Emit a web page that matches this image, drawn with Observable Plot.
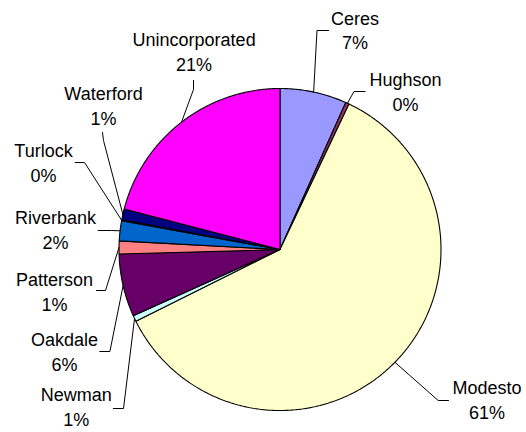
<!DOCTYPE html>
<html>
<head>
<meta charset="utf-8">
<script src="https://cdn.jsdelivr.net/npm/d3@7"></script>
<script src="https://cdn.jsdelivr.net/npm/@observablehq/plot@0.6"></script>
<style>
  html, body { margin: 0; padding: 0; background: #fff; }
  #chart { width: 526px; height: 432px; }
</style>
</head>
<body>
<div id="chart"></div>
<script>
// ---- data ----
const names = ["Ceres", "Hughson", "Modesto", "Newman", "Oakdale", "Patterson", "Riverbank", "Turlock", "Waterford", "Unincorporated"];
const shares = [6.7, 0.35, 60.6, 0.6, 6.3, 1.3, 2.0, 0.1, 1.1, 20.95];
const colors = ["#9999FF", "#993366", "#FFFFCC", "#CCFFFF", "#660066", "#FF8080", "#0066CC", "#CCCCFF", "#000080", "#FF00FF"];

// ---- layout (pixels) ----
const W = 526, H = 432;
const cx = 279.5, cy = 249, R = 161;
// label centre, leader start, leader elbow
const labelX = [354.5, 405, 486.5, 75.8, 64, 54, 55, 43, 103, 193.6];
const labelY = [28.5, 90, 398, 405, 350, 290, 228, 161, 104, 50];
const startX = [328, 364.6, 448, 112.8, 99.3, 96, 97.6, 74.7, 102, 193];
const startY = [30, 91, 400, 408, 351, 290, 230, 162, 132, 80];
const elbowX = [316.5, 353.5, 437.7, 123, 109.4, 105, 111, 84, 103, 193];
const elbowY = [30, 91, 400, 408, 351, 290, 230, 162, 140, 89];

const total = d3.sum(shares);
const pt = (a, r) => ({x: cx + r * Math.sin(a), y: cy - r * Math.cos(a)});

let cum = 0;
const slices = names.map((name, i) => {
  const a0 = cum / total * 2 * Math.PI;
  cum += shares[i];
  const a1 = cum / total * 2 * Math.PI;
  const pts = [{x: cx, y: cy}];
  const n = Math.max(2, Math.ceil((a1 - a0) / (Math.PI / 360)));
  for (let k = 0; k <= n; k++) pts.push(pt(a0 + (a1 - a0) * k / n, R));
  pts.push({x: cx, y: cy});
  const mid = (a0 + a1) / 2;
  const tip = pt(mid, R);
  return {
    name, color: colors[i], pts,
    leader: [{x: startX[i], y: startY[i]}, {x: elbowX[i], y: elbowY[i]}, tip],
    label: {x: labelX[i], y: labelY[i], text: name + "\n" + Math.round(shares[i] / total * 100) + "%"}
  };
});

const marks = [];
slices.forEach(s => {
  marks.push(Plot.line(s.pts, {x: "x", y: "y", fill: s.color, stroke: "#000", strokeWidth: 1.1, strokeLinejoin: "miter", curve: "linear"}));
});
slices.forEach(s => {
  marks.push(Plot.line(s.leader, {x: "x", y: "y", stroke: "#000", strokeWidth: 1, curve: "linear"}));
});
marks.push(Plot.text(slices.map(s => s.label), {
  x: "x", y: "y", text: "text", fill: "#000", fontSize: 18, lineHeight: 1.36,
  fontFamily: "'Liberation Sans', Arial, sans-serif", textAnchor: "middle"
}));

const chart = Plot.plot({
  width: W, height: H, margin: 0,
  x: {domain: [0, W], range: [0, W], axis: null},
  y: {domain: [0, H], range: [0, H], axis: null},
  style: {background: "#fff"},
  marks
});
document.getElementById("chart").appendChild(chart);
</script>
</body>
</html>
